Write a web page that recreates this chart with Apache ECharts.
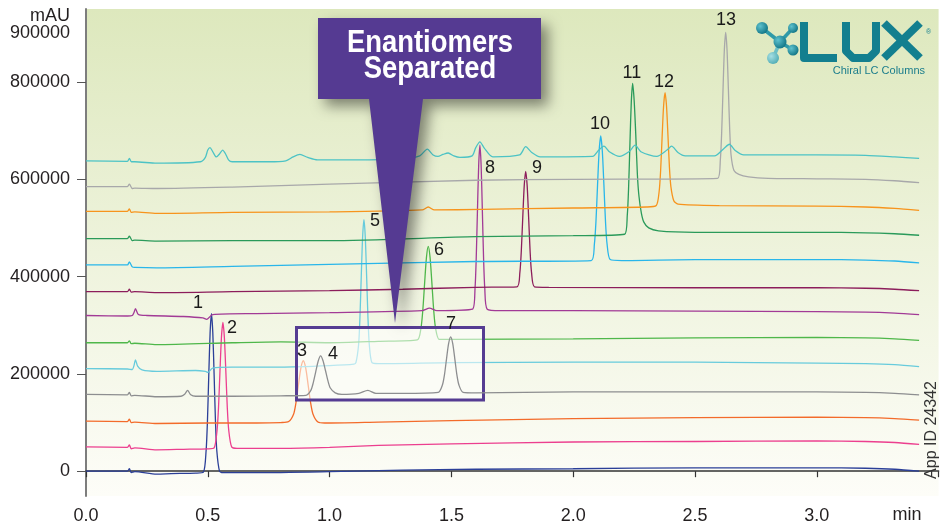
<!DOCTYPE html>
<html><head><meta charset="utf-8">
<script src="https://cdn.jsdelivr.net/npm/echarts@6/dist/echarts.min.js"></script>
<style>html,body{margin:0;padding:0;background:#fff}#c{width:943px;height:527px}</style>
</head><body><div id="c"></div>
<script>
// ---- axis ticks ----
const xTickValues = [0, 0.5, 1.0, 1.5, 2.0, 2.5, 3.0, 3.5];
const yLabelValues = [0, 200000, 400000, 600000, 800000, 900000];
const yTickValues = [0, 200000, 400000, 600000, 800000];

// ---- traces: [time (min), signal (mAU)] ----
const traceBlue = [[0,0],[0.17,0],[0.178,5000],[0.186,-3000],[0.2,-1000],[0.29,-6000],[0.35,-5000],[0.45,-4000],[0.482,-2000],[0.493,42000],[0.4985,102000],[0.504,197000],[0.5095,285000],[0.515,324000],[0.5205,285000],[0.526,197000],[0.5315,102000],[0.537,42000],[0.548,0],[0.56,-3000],[0.7,-3000],[1.0,-1000],[1.3,2000],[1.6,4000],[2.0,5000],[2.5,7000],[3.0,7000],[3.2,6000],[3.32,4000],[3.42,0]];
const tracePink = [[0,50000],[0.17,49000],[0.178,54000],[0.186,46000],[0.2,48000],[0.29,44000],[0.4,45000],[0.5,46000],[0.526,48000],[0.538,84000],[0.544,131000],[0.55,206000],[0.556,275000],[0.562,306000],[0.568,275000],[0.574,206000],[0.58,131000],[0.586,84000],[0.598,50000],[0.62,47000],[0.8,47000],[1.0,49000],[1.2,53000],[1.5,56000],[2.0,60000],[2.5,61000],[3.0,62000],[3.2,61000],[3.32,59000],[3.42,55000]];
const traceRed = [[0,103000],[0.17,102000],[0.178,107000],[0.186,100000],[0.2,101000],[0.29,98000],[0.5,99000],[0.7,99000],[0.8,100000],[0.832,102000],[0.852,117000],[0.862,141000],[0.872,177000],[0.882,212000],[0.892,227000],[0.902,212000],[0.912,177000],[0.922,141000],[0.932,117000],[0.952,101000],[0.98,99000],[1.2,101000],[1.5,104000],[2.0,108000],[2.5,110000],[3.0,111000],[3.2,110000],[3.32,108000],[3.42,105000]];
const traceGrayA = [[0,158000],[0.17,157000],[0.178,162000],[0.186,155000],[0.2,156000],[0.29,153000],[0.39,154000],[0.405,158000],[0.417,166000],[0.43,157000],[0.45,154000],[0.6,154000],[0.8,155000],[0.903,156000],[0.923,166000],[0.933,182000],[0.943,204000],[0.953,226000],[0.963,237000],[0.973,227000],[0.983,207000],[0.993,186000],[1.003,171000],[1.023,161000],[1.05,158000],[1.12,160000],[1.157,166000],[1.19,160000],[1.3,160000],[1.446,162000],[1.463,177000],[1.4715,198000],[1.48,231000],[1.4885,262000],[1.497,276000],[1.5055,262000],[1.514,231000],[1.5225,198000],[1.531,177000],[1.548,162000],[1.6,161000],[2.0,163000],[2.5,163000],[3.0,163000],[3.2,162000],[3.32,160000],[3.42,157000]];
const traceCyan = [[0,211000],[0.17,210000],[0.19,209000],[0.197,217000],[0.203,229000],[0.212,216000],[0.23,208000],[0.29,205000],[0.45,207000],[0.49,205000],[0.5,203000],[0.52,212000],[0.6,214000],[0.8,214000],[1.0,217000],[1.1,220000],[1.108,223000],[1.119,260000],[1.1245,315000],[1.13,401000],[1.1355,481000],[1.141,517000],[1.1465,481000],[1.152,401000],[1.1575,315000],[1.163,260000],[1.174,223000],[1.2,221000],[1.5,223000],[2.0,224000],[2.5,224000],[3.0,222000],[3.2,221000],[3.32,219000],[3.42,215000]];
const traceGreen = [[0,264000],[0.17,264000],[0.178,268000],[0.186,262000],[0.2,263000],[0.29,260000],[0.6,264000],[0.8,266000],[1.0,264000],[1.2,267000],[1.36,270000],[1.375,294000],[1.3825,330000],[1.39,386000],[1.3975,439000],[1.405,462000],[1.4125,439000],[1.42,386000],[1.4275,330000],[1.435,294000],[1.45,271000],[1.5,271000],[2.0,272000],[2.5,274000],[3.0,275000],[3.2,274000],[3.32,272000],[3.42,269000]];
const tracePurple = [[0,320000],[0.17,319000],[0.19,320000],[0.197,326000],[0.203,334000],[0.215,322000],[0.25,320000],[0.4,318000],[0.48,315000],[0.495,312000],[0.52,322000],[0.7,324000],[1.0,326000],[1.38,330000],[1.41,335000],[1.44,330000],[1.587,333000],[1.597,376000],[1.602,439000],[1.607,537000],[1.612,629000],[1.617,670000],[1.622,629000],[1.627,537000],[1.632,439000],[1.637,376000],[1.647,333000],[1.7,330000],[2.0,330000],[2.5,329000],[3.0,328000],[3.2,327000],[3.32,325000],[3.42,322000]];
const traceMaroon = [[0,369000],[0.17,369000],[0.178,374000],[0.186,368000],[0.2,369000],[0.29,367000],[0.6,369000],[1.0,371000],[1.3,374000],[1.6,378000],[1.769,379000],[1.781,408000],[1.787,453000],[1.793,522000],[1.799,587000],[1.805,616000],[1.811,587000],[1.817,522000],[1.823,453000],[1.829,408000],[1.841,379000],[1.9,378000],[2.5,377000],[3.0,377000],[3.2,376000],[3.32,374000],[3.42,371000]];
const traceSky = [[0,424000],[0.17,424000],[0.178,430000],[0.19,420000],[0.2,419000],[0.29,418000],[0.6,421000],[1.0,425000],[1.6,431000],[2.074,433000],[2.087,467000],[2.0935,514000],[2.1,589000],[2.1065,658000],[2.113,689000],[2.1195,658000],[2.126,589000],[2.1325,514000],[2.139,467000],[2.152,435000],[2.2,433000],[2.5,435000],[3.0,435000],[3.2,434000],[3.32,432000],[3.42,428000]];
const traceDarkGreen = [[0,478000],[0.17,478000],[0.178,483000],[0.19,474000],[0.2,475000],[0.29,473000],[0.6,474000],[1.0,474000],[1.6,482000],[2.0,484000],[2.211,487000],[2.222,526000],[2.2275,584000],[2.233,675000],[2.2385,759000],[2.244,797000],[2.2505,760000],[2.257,690000],[2.2635,610000],[2.27,565000],[2.28,530000],[2.29,512000],[2.31,500000],[2.35,494000],[2.5,491000],[3.0,491000],[3.2,490000],[3.32,488000],[3.42,485000]];
const traceOrange = [[0,534000],[0.17,534000],[0.178,539000],[0.186,532000],[0.2,533000],[0.29,530000],[0.6,532000],[1.0,533000],[1.38,537000],[1.405,543000],[1.43,537000],[1.62,538000],[2.0,541000],[2.3,543000],[2.341,546000],[2.353,576000],[2.359,619000],[2.365,687000],[2.371,750000],[2.377,778000],[2.383,751000],[2.389,690000],[2.395,625000],[2.401,585000],[2.413,556000],[2.43,549000],[2.6,546000],[3.0,545000],[3.2,543000],[3.32,540000],[3.42,536000]];
const traceGrayB = [[0,585000],[0.17,585000],[0.178,590000],[0.19,581000],[0.2,582000],[0.29,581000],[0.6,584000],[1.0,590000],[1.6,598000],[2.0,600000],[2.593,602000],[2.604,640000],[2.6095,696000],[2.615,784000],[2.6205,866000],[2.626,902000],[2.6315,866000],[2.637,786000],[2.6425,702000],[2.648,650000],[2.66,618000],[2.68,610000],[2.72,605000],[2.8,602000],[3.0,601000],[3.2,600000],[3.32,597000],[3.42,593000]];
const traceTeal = [[0,638000],[0.17,637000],[0.178,643000],[0.186,636000],[0.2,636000],[0.29,633000],[0.47,636000],[0.49,645000],[0.5,660000],[0.509,665000],[0.52,657000],[0.535,646000],[0.548,652000],[0.561,660000],[0.572,653000],[0.585,640000],[0.6,636000],[0.75,636000],[0.82,638000],[0.85,646000],[0.878,651000],[0.91,645000],[0.95,640000],[1.1,640000],[1.3,642000],[1.37,648000],[1.401,662000],[1.425,650000],[1.445,647000],[1.465,651000],[1.487,654000],[1.51,648000],[1.535,645000],[1.585,648000],[1.6,665000],[1.617,677000],[1.635,664000],[1.67,646000],[1.78,650000],[1.805,667000],[1.83,655000],[1.864,646000],[2.08,647000],[2.105,660000],[2.126,668000],[2.15,656000],[2.19,647000],[2.23,657000],[2.254,670000],[2.28,656000],[2.343,647000],[2.385,660000],[2.404,668000],[2.43,655000],[2.46,648000],[2.58,648000],[2.62,664000],[2.641,672000],[2.665,659000],[2.7,650000],[3.0,650000],[3.2,649000],[3.32,646000],[3.42,643000]];

// ---- peak numbering (label anchor in data space) ----
const peakNames = ['1','2','3','4','5','6','7','8','9','10','11','12','13'];
const peakLabelTimes = [0.46, 0.599, 0.887, 1.014, 1.186, 1.449, 1.498, 1.658, 1.851, 2.11, 2.241, 2.373, 2.627];
const peakLabelValues = [346000, 294000, 247000, 241000, 514000, 455000, 303000, 623000, 623000, 714000, 819000, 800000, 927000];

const traces = [traceBlue, tracePink, traceRed, traceGrayA, traceCyan, traceGreen, tracePurple, traceMaroon, traceSky, traceDarkGreen, traceOrange, traceGrayB, traceTeal];
const traceNames = ['blue','pink','red','grayA','cyan','green','purple','maroon','sky','darkgreen','orange','grayB','teal'];
const traceColors = ['#2b3f98','#ec3f8f','#f36b2a','#8d8e90','#67cbdc','#4fb74a','#a23a96','#8c1d5b','#29b6ea','#2a9a5a','#f7941d','#a8a8aa','#4cc3c5'];

const FONT = "'Liberation Sans', Arial, Helvetica, sans-serif";
const chart = echarts.init(document.getElementById('c'), null, {renderer: 'canvas'});

const series = traces.map((d, i) => ({
  name: traceNames[i], type: 'line', data: d, showSymbol: false, symbol: 'none',
  smooth: 0.25, animation: false, silent: true,
  z: traceNames[i] === 'grayA' ? 11 : 2,
  lineStyle: {color: traceColors[i], width: 1.3}
}));
series.push({
  type: 'scatter', symbolSize: 0, z: 30, silent: true, animation: false,
  itemStyle: {color: '#1a1a1a'},
  data: peakNames.map((n, i) => ({name: n, value: [peakLabelTimes[i], peakLabelValues[i]]})),
  label: {show: true, position: 'inside', formatter: p => p.name, color: '#1a1a1a', fontSize: 18, fontFamily: FONT,
    textBorderWidth: 0, textShadowBlur: 0, opacity: 1}
});

const ballFill = (a, b) => ({type: 'radial', x: 0.35, y: 0.35, r: 0.75, colorStops: [{offset: 0, color: a}, {offset: 1, color: b}]});
const LOGO = '#137f8f';
const CALLOUT_FONT = "'Liberation Sans', Arial, sans-serif";

chart.setOption({
  animation: false,
  backgroundColor: '#ffffff',
  grid: {left: 86, right: 4.4, top: 9, bottom: 31, show: true, borderWidth: 0,
    backgroundColor: {type: 'linear', x: 0, y: 0, x2: 0, y2: 1, colorStops: [
      {offset: 0, color: '#dde8bd'}, {offset: 0.5, color: '#eef3dc'}, {offset: 1, color: '#fdfdf8'}]}},
  xAxis: {type: 'value', min: 0, max: 3.5, interval: 0.5,
    axisLine: {show: true, lineStyle: {color: '#333', width: 1.5}},
    axisTick: {show: true, length: 6, lineStyle: {color: '#333', width: 1.2}},
    splitLine: {show: false},
    axisLabel: {fontSize: 18, color: '#231f20', fontFamily: FONT, margin: 11,
      formatter: v => (v === 3.5 ? '' : v.toFixed(1))}},
  yAxis: {type: 'value', min: -51000, max: 950000,
    axisLine: {show: true, lineStyle: {color: '#7d7d7d', width: 2}},
    axisTick: {show: true, length: 9, customValues: yTickValues, lineStyle: {color: '#555', width: 1}},
    splitLine: {show: false},
    axisLabel: {fontSize: 18, color: '#231f20', fontFamily: FONT, margin: 16,
      customValues: yLabelValues, formatter: v => String(v)}},
  series: series,
  graphic: [
    {type: 'text', x: 70, y: 16, z: 40, style: {text: 'mAU', fontSize: 18, fontFamily: FONT, fill: '#231f20', textAlign: 'right', textVerticalAlign: 'middle'}},
    {type: 'text', x: 907, y: 515, z: 40, style: {text: 'min', fontSize: 18, fontFamily: FONT, fill: '#231f20', textAlign: 'center', textVerticalAlign: 'middle'}},
    {type: 'text', x: 932, y: 430, z: 40, rotation: Math.PI / 2, style: {text: 'App ID 24342', fontSize: 16, fontFamily: FONT, fill: '#333', textAlign: 'center', textVerticalAlign: 'middle'}},
    // highlight box
    {type: 'rect', z: 10, shape: {x: 296.5, y: 327.5, width: 187, height: 72.5},
      style: {fill: 'rgba(255,255,255,0.55)', stroke: '#553c92', lineWidth: 3}},
    // callout
    {type: 'polygon', z: 20, shape: {points: [[318,18],[541,18],[541,99],[423,99],[395,323],[369,99],[318,99]]},
      style: {fill: '#553a92', shadowBlur: 14, shadowColor: 'rgba(0,0,0,0.45)', shadowOffsetX: 7, shadowOffsetY: 7}},
    {type: 'text', x: 430, y: 43, z: 21, scaleX: 0.885, style: {text: 'Enantiomers', fontSize: 31, fontWeight: 'bold', fontFamily: CALLOUT_FONT, fill: '#ffffff', textAlign: 'center', textVerticalAlign: 'middle'}},
    {type: 'text', x: 430, y: 69, z: 21, scaleX: 0.885, style: {text: 'Separated', fontSize: 31, fontWeight: 'bold', fontFamily: CALLOUT_FONT, fill: '#ffffff', textAlign: 'center', textVerticalAlign: 'middle'}},
    // logo molecule
    {type: 'line', z: 22, shape: {x1: 780, y1: 42, x2: 762, y2: 28}, style: {stroke: '#2f9aa8', lineWidth: 3.5}},
    {type: 'line', z: 22, shape: {x1: 780, y1: 42, x2: 793, y2: 28}, style: {stroke: '#2f9aa8', lineWidth: 3.5}},
    {type: 'line', z: 22, shape: {x1: 780, y1: 42, x2: 793, y2: 50}, style: {stroke: '#2f9aa8', lineWidth: 3.5}},
    {type: 'line', z: 22, shape: {x1: 780, y1: 42, x2: 773, y2: 58}, style: {stroke: '#6cc0c6', lineWidth: 3.5}},
    {type: 'circle', z: 23, shape: {cx: 762, cy: 28, r: 6}, style: {fill: ballFill('#5ec2ce', '#0b6f80')}},
    {type: 'circle', z: 23, shape: {cx: 793, cy: 28, r: 5}, style: {fill: ballFill('#5ec2ce', '#0b6f80')}},
    {type: 'circle', z: 23, shape: {cx: 780, cy: 42, r: 6.5}, style: {fill: ballFill('#5ec2ce', '#0b6f80')}},
    {type: 'circle', z: 23, shape: {cx: 793, cy: 50, r: 5.5}, style: {fill: ballFill('#5ec2ce', '#0b6f80')}},
    {type: 'circle', z: 23, shape: {cx: 773, cy: 58, r: 6}, style: {fill: ballFill('#a6dfe3', '#4aa9b2')}},
    // logo letters
    {type: 'polyline', z: 22, shape: {points: [[804,22],[804,58],[837,58]]}, style: {fill: null, stroke: LOGO, lineWidth: 8, lineJoin: 'round'}},
    {type: 'polyline', z: 22, shape: {points: [[846,22],[846,51],[853,58],[869,58],[876,51],[876,22]]}, style: {fill: null, stroke: LOGO, lineWidth: 8, lineJoin: 'round'}},
    {type: 'line', z: 22, shape: {x1: 884, y1: 23, x2: 920, y2: 58}, style: {stroke: LOGO, lineWidth: 8}},
    {type: 'line', z: 22, shape: {x1: 920, y1: 23, x2: 884, y2: 58}, style: {stroke: LOGO, lineWidth: 8}},
    {type: 'text', x: 926, y: 32, z: 22, style: {text: '®', fontSize: 7, fontFamily: FONT, fill: LOGO, textAlign: 'left', textVerticalAlign: 'middle'}},
    {type: 'text', x: 925, y: 71, z: 22, style: {text: 'Chiral LC Columns', fontSize: 11, fontFamily: FONT, fill: '#1b7d8c', textAlign: 'right', textVerticalAlign: 'middle'}}
  ]
});
</script>
</body></html>
